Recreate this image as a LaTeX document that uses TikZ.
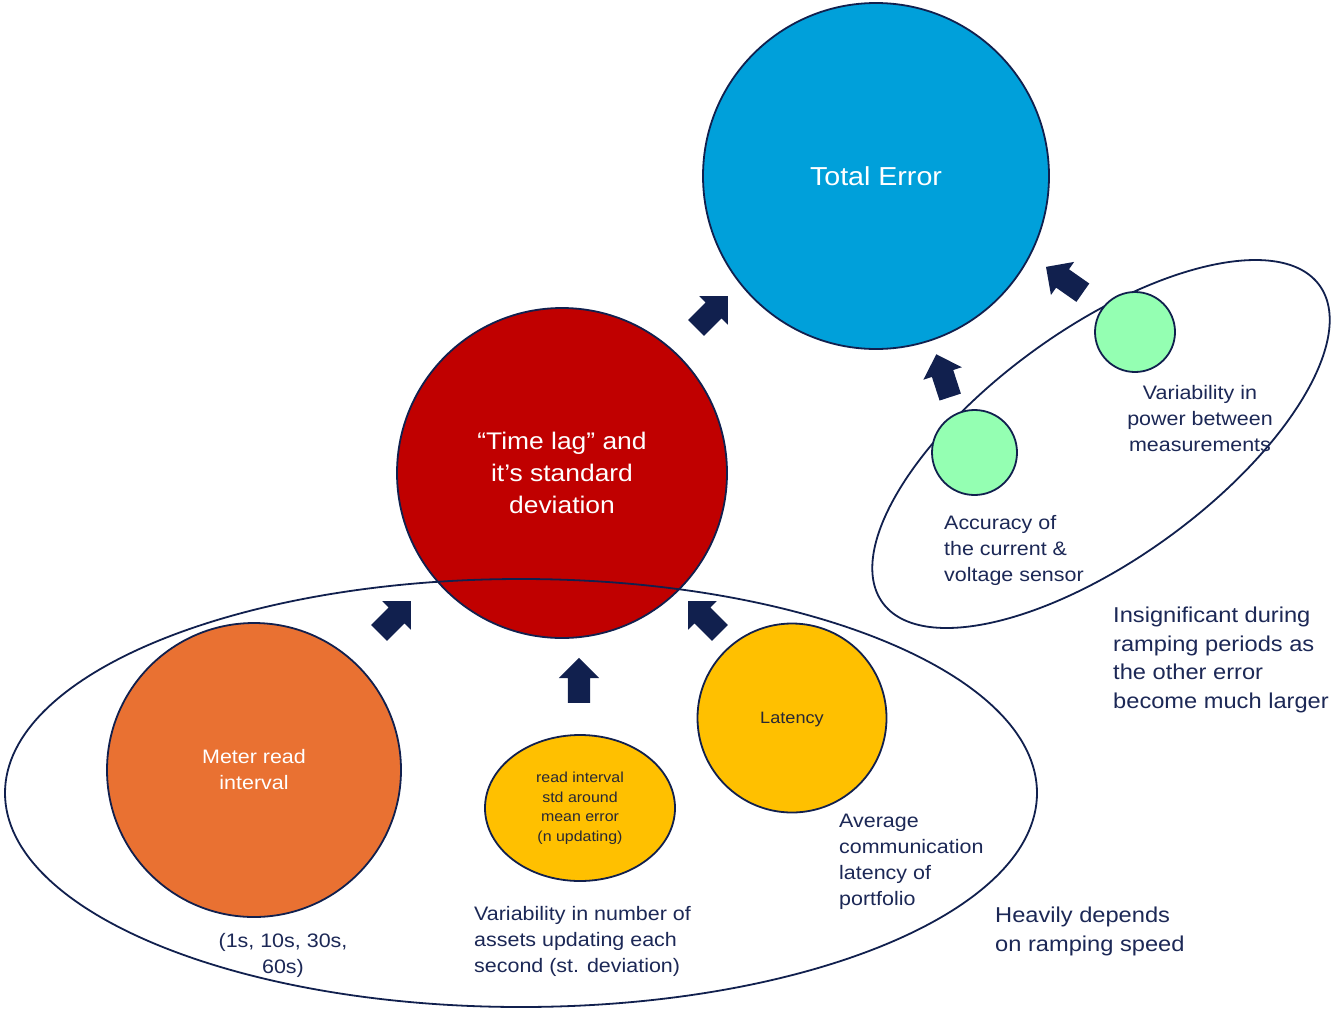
\documentclass[tikz,border=0pt]{standalone}
\usepackage{fontspec}
\setmainfont{Liberation Sans}[FakeStretch=1.1]
\usetikzlibrary{shapes.geometric,shapes.arrows}
\definecolor{navy}{RGB}{17,32,78}
\definecolor{txtnavy}{RGB}{28,40,86}
\definecolor{teblue}{RGB}{0,160,218}
\definecolor{tlred}{RGB}{192,0,0}
\definecolor{mrorange}{RGB}{233,113,50}
\definecolor{gold}{RGB}{255,192,0}
\definecolor{mint}{RGB}{148,255,178}
\definecolor{darktxt}{RGB}{40,40,52}
\begin{document}
\begin{tikzpicture}[x=1pt,y=-1pt,
 bubble/.style={circle,draw=navy,line width=1.8pt,inner sep=0pt,align=center},
 group/.style={ellipse,draw=navy,line width=1.8pt,inner sep=0pt},
 blockarrow/.style={single arrow,fill=navy,draw=none,minimum height=45pt,minimum width=0pt,single arrow head extend=9pt,inner xsep=0pt,inner ysep=11pt,single arrow tip angle=90},
 lbl/.style={text=txtnavy,align=left,anchor=north west,inner sep=0pt,font=\fontsize{19.5}{26}\selectfont},
 lblbig/.style={lbl,font=\fontsize{21.5}{28.5}\selectfont}]
\useasboundingbox (0,0) rectangle (1332,1009);
\fill[white] (0,0) rectangle (1332,1009);
\node[bubble,fill=teblue,minimum size=346pt,text=white,font=\fontsize{26}{32}\selectfont] (total) at (876,176) {Total Error};
\node[bubble,fill=tlred,minimum size=330pt,text=white,font=\fontsize{24}{32}\selectfont] (timelag) at (562,473) {“Time lag” and\\it’s standard\\deviation};
\node[group,minimum width=1032pt,minimum height=428pt] (lowgroup) at (521,793) {};
\node[bubble,fill=mrorange,minimum size=294pt,text=white,font=\fontsize{19.5}{26}\selectfont] (meter) at (254,770) {Meter read\\interval};
\node[ellipse,draw=navy,line width=1.8pt,inner sep=0pt,align=center,fill=gold,minimum width=190pt,minimum height=146pt,text=darktxt,font=\fontsize{14.5}{19.5}\selectfont] (readint) at (580,808) {read interval\\std around\\mean error\\(n updating)};
\node[bubble,fill=gold,minimum size=189pt,text=darktxt,text depth=0pt,font=\fontsize{16.5}{20}\selectfont] (latency) at (792,718) {Latency};
\node[group,rotate=36,minimum width=540pt,minimum height=230pt] (rightgroup) at (1101,444) {};
\node[bubble,fill=mint,minimum size=85pt] (accuracy) at (974.5,452.5) {};
\node[bubble,fill=mint,minimum size=80pt] (powervar) at (1135,332) {};
\node[blockarrow,rotate=45] (a1) at (708,316) {};
\node[blockarrow,rotate=45] (a2) at (391,621) {};
\node[blockarrow,rotate=135] (a3) at (708,621) {};
\node[blockarrow,rotate=90] (a4) at (579,686) {};
\node[blockarrow,rotate=108] (a5) at (945,381) {};
\node[blockarrow,rotate=145] (a6) at (1069,283) {};
\node[lbl,align=center,anchor=north] (lpower) at (1200,385) {Variability in\\power between\\measurements};
\node[lbl] (lacc) at (944,515) {Accuracy of\\the current \&\\voltage sensor};
\node[lblbig] (linsig) at (1113,607) {Insignificant during\\ramping periods as\\the other error\\become much larger};
\node[lblbig] (lheavy) at (995,907) {Heavily depends\\on ramping speed};
\node[lbl] (lavg) at (839,814) {Average\\communication\\latency of\\portfolio};
\node[lbl] (lvarn) at (474,906) {Variability in number of\\assets updating each\\second (st. deviation)};
\node[lbl,align=center,anchor=north] (lsec) at (283,933) {(1s, 10s, 30s,\\60s)};
\end{tikzpicture}
\end{document}
